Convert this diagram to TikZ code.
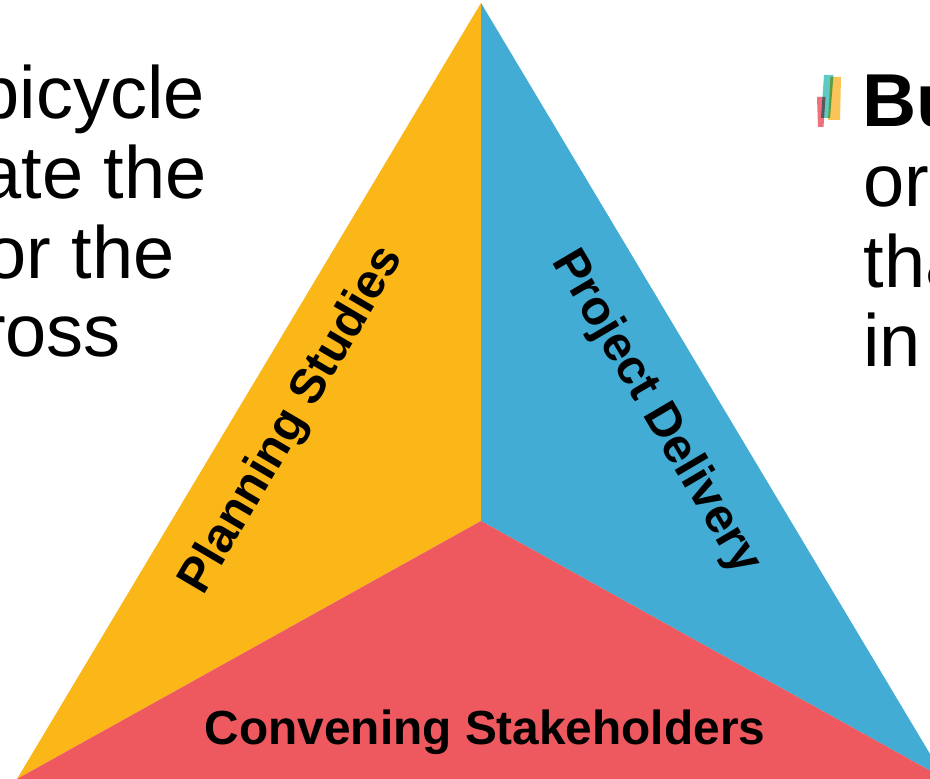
\documentclass[tikz,border=0pt]{standalone}
\usepackage{fontspec}
\setmainfont{Liberation Sans}
\definecolor{tyellow}{RGB}{251,183,24}
\definecolor{tblue}{RGB}{66,172,212}
\definecolor{tred}{RGB}{237,89,94}
\definecolor{iteal}{RGB}{78,196,190}
\definecolor{iyellow}{RGB}{250,190,70}
\definecolor{ired}{RGB}{236,98,110}
\begin{document}
\begin{tikzpicture}[x=1pt,y=1pt,
  bigtext/.style={inner sep=0pt, font=\fontsize{74}{80}\selectfont},
  bigbold/.style={inner sep=0pt, font=\fontsize{75}{80}\selectfont\bfseries},
  sidelabel/.style={inner sep=0pt, font=\fontsize{48.5}{52}\selectfont\bfseries},
  baselabel/.style={inner sep=0pt, font=\fontsize{47.8}{52}\selectfont\bfseries},
  iconbar/.style={blend mode=multiply, opacity=0.9}]
\useasboundingbox (0,0) rectangle (930,779);
\clip (0,0) rectangle (930,779);
% triangle
\coordinate (A) at (481,776);
\coordinate (BL) at (17,0);
\coordinate (BR) at (945,0);
\coordinate (C) at (481,258);
\fill[tyellow] (A) -- (C) -- (BL) -- cycle;
\fill[tblue] (A) -- (BR) -- (C) -- cycle;
\fill[tred] (BL) -- (C) -- (BR) -- cycle;
% side labels
\node[sidelabel, anchor=base, rotate=59.5] (plan) at (303.5,352) {Planning Studies};
\node[sidelabel, anchor=base, rotate=-59.5] (proj) at (645,360) {Project Delivery};
\node[baselabel, anchor=base] (conv) at (485,34) {Convening Stakeholders};
% left text (cut off)
\node[bigtext, anchor=base east] (l1) at (205,660.5) {bicycle};
\node[bigtext, anchor=base east] (l2) at (207,580.5) {ate the};
\node[bigtext, anchor=base east] (l3) at (175,500.5) {or the};
\node[bigtext, anchor=base east] (l4) at (121,422) {ross};
% right text (cut off)
\node[bigbold, anchor=base west] (r1) at (862.5,652) {Bu};
\node[bigtext, anchor=base west] (r2) at (863,572) {or};
\node[bigtext, anchor=base west] (r3) at (863.5,491) {tha};
\node[bigtext, anchor=base west] (r4) at (863,412) {in};
% bullet icon
\fill[iyellow, iconbar] (830.5,702) -- (841,702) -- (840,659) -- (828,659) -- cycle;
\fill[iteal, iconbar] (824,704) -- (833.5,704) -- (830,661) -- (821,661) -- cycle;
\fill[ired, iconbar] (817,682) -- (825.5,682) -- (823.5,652) -- (818,652) -- cycle;
\end{tikzpicture}
\end{document}
